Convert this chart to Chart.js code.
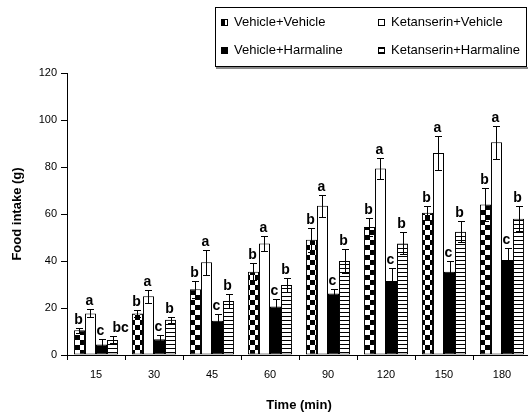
<!DOCTYPE html>
<html lang="en">
<head>
<meta charset="UTF-8">
<title>Food intake</title>
<script src="https://cdn.jsdelivr.net/npm/chart.js"></script>
<style>
  html, body { margin: 0; padding: 0; overflow: hidden; background: #fff; }
  #wrap { width: 532px; height: 417px; }
</style>
</head>
<body>
<div id="wrap"><canvas id="grafico" width="532" height="417"></canvas></div>
<script>
// Datos
const tiempos = ['15', '30', '45', '60', '90', '120', '150', '180'];

const vehVeh = [10.5, 17.7, 28, 35.4, 49, 54.5, 60.5, 64];
const vehVehErr = [1, 1.5, 3.6, 3.6, 5, 3.8, 3, 7];
const vehVehLetras = ['b', 'b', 'b', 'b', 'b', 'b', 'b', 'b'];

const ketVeh = [17.7, 25, 39.5, 47.5, 63.5, 79.4, 86, 90.5];
const ketVehErr = [1.7, 2.8, 5.3, 3.3, 4.7, 4.5, 7.3, 7];
const ketVehLetras = ['a', 'a', 'a', 'a', 'a', 'a', 'a', 'a'];

const vehHar = [4.5, 6.7, 14.6, 20.6, 26.2, 31.5, 35.4, 40.4];
const vehHarErr = [2.3, 1.8, 3, 3.2, 2, 5.4, 4.6, 5];
const vehHarLetras = ['c', 'c', 'c', 'c', 'c', 'c', 'c', 'c'];

const ketHar = [6.4, 15, 23, 29.8, 40, 47.5, 52.5, 58];
const ketHarErr = [1.5, 1.2, 2.8, 2.8, 4.9, 4.7, 4.5, 5.2];
const ketHarLetras = ['bc', 'b', 'b', 'b', 'b', 'b', 'b', 'b'];

const fuente = "'Liberation Sans', Arial, sans-serif";

// patrones de relleno
function patron(dibujar, w, h) {
    const c = document.createElement('canvas');
    c.width = w; c.height = h;
    const g = c.getContext('2d');
    g.fillStyle = '#fff';
    g.fillRect(0, 0, w, h);
    g.fillStyle = '#000';
    dibujar(g);
    return g.createPattern(c, 'repeat');
}
const ajedrez = patron(g => { g.fillRect(0, 0, 5, 5); g.fillRect(5, 5, 5, 5); }, 10, 10);
const rayas = patron(g => { g.fillRect(0, 0, 4, 1); }, 4, 4);

// barras de error y letras
const errores = {
    id: 'errores',
    afterDatasetsDraw(chart) {
        const ctx = chart.ctx;
        const y = chart.scales.y;
        ctx.save();
        ctx.strokeStyle = '#000';
        ctx.lineWidth = 1;
        ctx.fillStyle = '#000';
        ctx.font = 'bold 14px ' + fuente;
        ctx.textBaseline = 'alphabetic';
        chart.data.datasets.forEach((ds, i) => {
            chart.getDatasetMeta(i).data.forEach((bar, j) => {
                const v = ds.data[j], e = ds.errores[j];
                const x = Math.round(bar.x) + 0.5;
                const arriba = Math.round(y.getPixelForValue(v + e)) + 0.5;
                const abajo = Math.round(y.getPixelForValue(v - e)) + 0.5;
                ctx.beginPath();
                ctx.moveTo(x, arriba); ctx.lineTo(x, abajo);
                ctx.moveTo(x - 3.5, arriba); ctx.lineTo(x + 3.5, arriba);
                ctx.moveTo(x - 3.5, abajo); ctx.lineTo(x + 3.5, abajo);
                ctx.stroke();
                const txt = ds.letras[j];
                if (txt.length > 1) {
                    ctx.textAlign = 'left';
                    ctx.fillText(txt, bar.x, arriba - 5);
                } else {
                    ctx.textAlign = 'center';
                    ctx.fillText(txt, bar.x - 1, arriba - 5);
                }
            });
        });
        ctx.restore();
    }
};

// leyenda dibujada a mano
const leyenda = {
    id: 'leyenda',
    afterDraw(chart) {
        const ctx = chart.ctx;
        ctx.save();
        ctx.fillStyle = '#888';
        ctx.fillRect(216, 67, 312, 2);
        ctx.strokeStyle = '#000';
        ctx.lineWidth = 1;
        ctx.strokeRect(215.5, 7.5, 311, 59);
        const pos = [[221, 22], [378, 22], [221, 50], [378, 50]];
        ctx.font = '13px ' + fuente;
        ctx.textBaseline = 'middle';
        chart.data.datasets.forEach((ds, n) => {
            const [px, py] = pos[n];
            ctx.fillStyle = ds.backgroundColor;
            ctx.fillRect(px, py - 3, 7, 7);
            ctx.strokeStyle = '#000';
            ctx.strokeRect(px + 0.5, py - 2.5, 6, 6);
            ctx.fillStyle = '#000';
            ctx.fillText(ds.label, px + 13, py);
        });
        ctx.restore();
    }
};

const ctx = document.getElementById('grafico').getContext('2d');

const grafico = new Chart(ctx, {
    type: 'bar',
    data: {
        labels: tiempos,
        datasets: [
            { label: 'Vehicle+Vehicle', data: vehVeh, errores: vehVehErr, letras: vehVehLetras, backgroundColor: ajedrez },
            { label: 'Ketanserin+Vehicle', data: ketVeh, errores: ketVehErr, letras: ketVehLetras, backgroundColor: '#fff' },
            { label: 'Vehicle+Harmaline', data: vehHar, errores: vehHarErr, letras: vehHarLetras, backgroundColor: '#000' },
            { label: 'Ketanserin+Harmaline', data: ketHar, errores: ketHarErr, letras: ketHarLetras, backgroundColor: rayas }
        ]
    },
    options: {
        responsive: false,
        animation: false,
        layout: { padding: { top: 73, right: 1, bottom: 0, left: 0 } },
        datasets: {
            bar: {
                borderColor: '#000',
                borderWidth: 1,
                borderSkipped: false,
                categoryPercentage: 0.76,
                barPercentage: 1
            }
        },
        plugins: {
            legend: { display: false },
            tooltip: { enabled: false }
        },
        scales: {
            x: {
                afterFit(scale) { scale.height = 62; },
                grid: { offset: true, drawOnChartArea: false, tickLength: 5, color: '#000' },
                border: { color: '#000' },
                ticks: { color: '#000', font: { family: fuente, size: 11 }, padding: 8 },
                title: { display: true, text: 'Time (min)', color: '#000', font: { family: fuente, size: 13, weight: 'bold' }, padding: { top: 0, bottom: 4 } }
            },
            y: {
                min: 0,
                max: 120,
                afterFit(scale) { scale.width = 67; },
                grid: { drawOnChartArea: false, tickLength: 6, color: '#000' },
                border: { color: '#000' },
                ticks: { stepSize: 20, color: '#000', font: { family: fuente, size: 11 }, padding: 4 },
                title: { display: true, text: 'Food intake (g)', color: '#000', font: { family: fuente, size: 13, weight: 'bold' }, padding: { top: 10, bottom: 0 } }
            }
        }
    },
    plugins: [errores, leyenda]
});
</script>
</body>
</html>
